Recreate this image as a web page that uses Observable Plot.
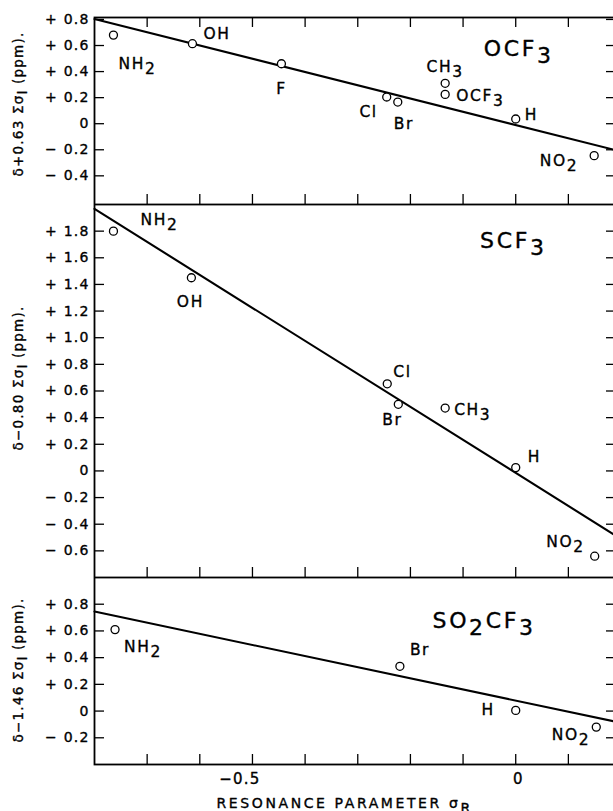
<!DOCTYPE html>
<html>
<head>
<meta charset="utf-8">
<script src="https://cdn.jsdelivr.net/npm/d3@7"></script>
<script src="https://cdn.jsdelivr.net/npm/@observablehq/plot@0.6"></script>
<style>
  html, body { margin: 0; padding: 0; background: #fff; overflow: hidden; }
  #chart { position: relative; width: 613px; height: 811px; overflow: hidden; }
  #chart svg { position: absolute; left: 0; max-width: none; }
  .ls-point { letter-spacing: 1.6px; }
  .ls-title { letter-spacing: 2.6px; }
  .ls-ytick { letter-spacing: 1.2px; }
  .ls-xtick { letter-spacing: 1.2px; }
  .ls-ytitle { letter-spacing: 1.2px; }
  .ls-xtitle { letter-spacing: 2.6px; }
</style>
</head>
<body>
<div id="chart"></div>
<script>
// ---------- shared x axis (resonance parameter sigma_R) ----------
const xDomain = [-0.8, 0.1876];
const xTicks = [-0.7, -0.6, -0.5, -0.4, -0.3, -0.2, -0.1, 0, 0.1];
const xLabelValues = [-0.5, 0];
const xLabelText = ["\u22120.5", "0"];
const xTitle = "RESONANCE PARAMETER \u03c3_R";

// ---------- panel 1 : OCF3 ----------
const ocf3Names = ["NH2", "OH", "F", "Cl", "Br", "CH3", "OCF3", "H", "NO2"];
const ocf3Sigma = [-0.764, -0.614, -0.445, -0.245, -0.224, -0.134, -0.134, 0.0, 0.149];
const ocf3Shift = [0.68, 0.614, 0.46, 0.205, 0.166, 0.31, 0.225, 0.036, -0.245];
const ocf3FitSigma = [-0.8, 0.1876];
const ocf3FitShift = [0.803, -0.201];
const ocf3YDomain = [-0.62, 0.815];
const ocf3YTicks = [0.8, 0.6, 0.4, 0.2, 0, -0.2, -0.4];
const ocf3YTickLabels = ["+ 0.8", "+ 0.6", "+ 0.4", "+ 0.2", "0", "\u2212 0.2", "\u2212 0.4"];
const ocf3Title = "OCF3";
const ocf3YTitle = "\u03b4+0.63 \u03a3\u03c3_I (ppm).";

// ---------- panel 2 : SCF3 ----------
const scf3Names = ["NH2", "OH", "Cl", "Br", "CH3", "H", "NO2"];
const scf3Sigma = [-0.764, -0.616, -0.244, -0.223, -0.134, 0.0, 0.15];
const scf3Shift = [1.80, 1.45, 0.654, 0.50, 0.472, 0.025, -0.64];
const scf3FitSigma = [-0.8, 0.1876];
const scf3FitShift = [1.967, -0.48];
const scf3YDomain = [-0.8, 2.0];
const scf3YTicks = [1.8, 1.6, 1.4, 1.2, 1.0, 0.8, 0.6, 0.4, 0.2, 0, -0.2, -0.4, -0.6];
const scf3YTickLabels = ["+ 1.8", "+ 1.6", "+ 1.4", "+ 1.2", "+ 1.0", "+ 0.8", "+ 0.6", "+ 0.4", "+ 0.2", "0",
  "\u2212 0.2", "\u2212 0.4", "\u2212 0.6"];
const scf3Title = "SCF3";
const scf3YTitle = "\u03b4\u22120.80 \u03a3\u03c3_I (ppm).";

// ---------- panel 3 : SO2CF3 ----------
const so2cf3Names = ["NH2", "Br", "H", "NO2"];
const so2cf3Sigma = [-0.761, -0.22, 0.0, 0.153];
const so2cf3Shift = [0.61, 0.335, 0.005, -0.12];
const so2cf3FitSigma = [-0.8, 0.1876];
const so2cf3FitShift = [0.745, -0.078];
const so2cf3YDomain = [-0.4, 1.0];
const so2cf3YTicks = [0.8, 0.6, 0.4, 0.2, 0, -0.2];
const so2cf3YTickLabels = ["+ 0.8", "+ 0.6", "+ 0.4", "+ 0.2", "0", "\u2212 0.2"];
const so2cf3Title = "SO2CF3";
const so2cf3YTitle = "\u03b4\u22121.46 \u03a3\u03c3_I (ppm).";

// ---------- layout (label placement relative to each point: anchor, dx, dy in px) ----------
const ocf3LabelLayout = [["start", 5, 29], ["start", 11, -10], ["middle", 0, 25], ["end", -9, 15], ["start", -4, 22],
  ["middle", 0, -16], ["start", 11, 2], ["start", 9, -4], ["end", -16, 5]];
const scf3LabelLayout = [["start", 27, -11], ["middle", -1, 24], ["start", 6, -12], ["middle", -6, 16],
  ["start", 9, 2], ["start", 12, -11], ["end", -10, -14]];
const so2cf3LabelLayout = [["start", 9, 17], ["start", 10, -16], ["end", -21, 0], ["end", -6, 8]];

const W = 614, ML = 94, PLOTW = W - ML;
const FONT = "DejaVu Sans";
const INK = "#000";

function panel(cfg) {
  const pts = cfg.names.map((n, i) => ({name: n, s: cfg.sigma[i], v: cfg.shift[i]}));
  const fit = cfg.fitSigma.map((s, i) => ({s, v: cfg.fitShift[i]}));
  const panelH = cfg.height - cfg.marginTop - cfg.marginBottom;
  const txt = {fill: INK, stroke: INK, strokeWidth: 0.35};
  const marks = [
    Plot.frame({stroke: INK, strokeWidth: 1.8}),
    Plot.tickY(cfg.yTicks, {y: d => d, stroke: INK, strokeWidth: 1.3, insetRight: PLOTW - 10}),
    Plot.tickY(cfg.yTicks, {y: d => d, stroke: INK, strokeWidth: 1.3, insetLeft: PLOTW - 8}),
    Plot.tickX(xTicks, {x: d => d, stroke: INK, strokeWidth: 1.3, insetTop: panelH - 10}),
    Plot.line(fit, {x: "s", y: "v", stroke: INK, strokeWidth: 2.1}),
    Plot.dot(pts, {x: "s", y: "v", r: 4, stroke: INK, strokeWidth: 1.3, fill: "#fff"}),
    ...cfg.layout.map((o, i) => Plot.text([pts[i]], {
      x: "s", y: "v", text: "name", textAnchor: o[0], dx: o[1], dy: o[2],
      lineAnchor: "middle", fontSize: 15.5, ...txt, className: "ls-point"
    })),
    Plot.text(cfg.yTicks, {
      y: d => d, frameAnchor: "left", textAnchor: "end", dx: -5, lineAnchor: "middle",
      text: (d, i) => cfg.yTickLabels[i], fontSize: 14, ...txt, className: "ls-ytick"
    }),
    Plot.text([cfg.yTitle], {
      frameAnchor: "left", textAnchor: "middle", rotate: -90, dx: -76, dy: cfg.yTitleDy, lineAnchor: "middle",
      text: d => d, fontSize: 13.5, ...txt, className: "ls-ytitle"
    }),
    Plot.text([cfg.title], {
      frameAnchor: "top-right", textAnchor: "end", lineAnchor: "middle", dx: cfg.titleDx, dy: cfg.titleDy,
      text: d => d, fontSize: 22, ...txt, className: "ls-title"
    })
  ];
  if (cfg.topTicks) {
    marks.push(Plot.tickX(xTicks, {x: d => d, stroke: INK, strokeWidth: 1.3, insetBottom: panelH - 10}));
  }
  if (cfg.bottomAxis) {
    marks.push(Plot.text(xLabelValues, {
      x: d => d, frameAnchor: "bottom", dy: 15, textAnchor: "end", dx: 8, lineAnchor: "middle",
      text: (d, i) => xLabelText[i], fontSize: 15, ...txt, className: "ls-xtick"
    }));
    marks.push(Plot.text([xTitle], {
      frameAnchor: "bottom-left", dx: 122, dy: 39, textAnchor: "start", lineAnchor: "middle",
      text: d => d, fontSize: 14, ...txt, className: "ls-xtitle"
    }));
  }
  return Plot.plot({
    width: W,
    height: cfg.height,
    marginLeft: ML,
    marginRight: 0,
    marginTop: cfg.marginTop,
    marginBottom: cfg.marginBottom,
    style: {fontFamily: FONT, background: "transparent", maxWidth: "none", color: INK},
    x: {domain: xDomain, axis: null},
    y: {domain: cfg.yDomain, axis: null},
    marks
  });
}

function richText(root) {
  root.querySelectorAll("text").forEach(t => {
    const s = t.textContent;
    const re = /_([A-Za-z])|(?<=[A-Z])(\d)/g;
    if (!re.test(s)) return;
    re.lastIndex = 0;
    const fs = parseFloat(getComputedStyle(t).fontSize) || 14;
    const shift = 0.33 * fs;
    t.textContent = "";
    let last = 0, down = false, m;
    const add = (str, sub) => {
      if (!str) return;
      const ts = document.createElementNS("http://www.w3.org/2000/svg", "tspan");
      ts.textContent = str;
      if (sub && !down) { ts.setAttribute("dy", shift); down = true; }
      else if (!sub && down) { ts.setAttribute("dy", -shift); down = false; }
      t.appendChild(ts);
    };
    while ((m = re.exec(s))) {
      add(s.slice(last, m.index), false);
      add(m[1] || m[2], true);
      last = re.lastIndex;
    }
    add(s.slice(last), false);
  });
}

const chart = document.getElementById("chart");
const panels = [
  {top: 0, names: ocf3Names, sigma: ocf3Sigma, shift: ocf3Shift, fitSigma: ocf3FitSigma, fitShift: ocf3FitShift,
   yDomain: ocf3YDomain, yTicks: ocf3YTicks, yTickLabels: ocf3YTickLabels, title: ocf3Title, yTitle: ocf3YTitle,
   layout: ocf3LabelLayout, height: 204, marginTop: 17, marginBottom: 0, titleDx: -61, titleDy: 31, yTitleDy: -7,
   topTicks: true, bottomAxis: false},
  {top: 204, names: scf3Names, sigma: scf3Sigma, shift: scf3Shift, fitSigma: scf3FitSigma, fitShift: scf3FitShift,
   yDomain: scf3YDomain, yTicks: scf3YTicks, yTickLabels: scf3YTickLabels, title: scf3Title, yTitle: scf3YTitle,
   layout: scf3LabelLayout, height: 373, marginTop: 0, marginBottom: 0, titleDx: -68, titleDy: 36, yTitleDy: -13,
   topTicks: false, bottomAxis: false},
  {top: 577, names: so2cf3Names, sigma: so2cf3Sigma, shift: so2cf3Shift, fitSigma: so2cf3FitSigma, fitShift: so2cf3FitShift,
   yDomain: so2cf3YDomain, yTicks: so2cf3YTicks, yTickLabels: so2cf3YTickLabels, title: so2cf3Title, yTitle: so2cf3YTitle,
   layout: so2cf3LabelLayout, height: 234, marginTop: 0, marginBottom: 47, titleDx: -79, titleDy: 43, yTitleDy: -1,
   topTicks: false, bottomAxis: true}
];
panels.forEach(cfg => {
  const svg = panel(cfg);
  svg.style.top = cfg.top + "px";
  chart.appendChild(svg);
  richText(svg);
});
</script>
</body>
</html>
